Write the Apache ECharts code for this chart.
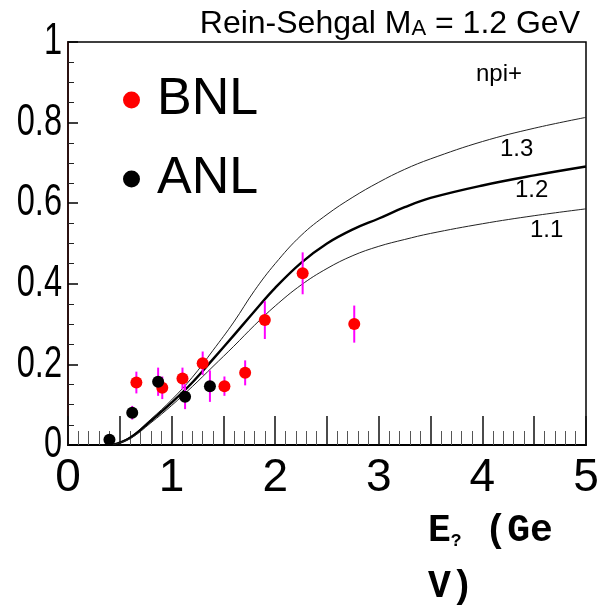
<!DOCTYPE html>
<html lang="en">
<head>
    <meta charset="UTF-8">
    <title>npi+ Rein-Sehgal</title>
    <script src="https://cdn.jsdelivr.net/npm/echarts@6/dist/echarts.min.js"></script>
    <style type="text/css">
        html, body { margin: 0; height: 100%; background: #ffffff; }
        #main { width: 605px; height: 606px; }
    </style>
</head>
<body>
    <div id="main"></div>
    <script type="text/javascript">
        // model curves (Rein-Sehgal, different MA)
        var energyGrid = [0.43, 0.6, 0.8, 1.0, 1.2, 1.4, 1.6, 1.8, 2.0, 2.25, 2.5, 2.75, 3.0, 3.25, 3.5, 4.0, 4.5, 5.0];
        var curveMA11 = [0, 0.016, 0.055, 0.098, 0.145, 0.195, 0.245, 0.297, 0.345, 0.397, 0.438, 0.47, 0.493, 0.51, 0.525, 0.549, 0.569, 0.586];
        var curveMA12 = [0, 0.018, 0.06, 0.105, 0.155, 0.213, 0.272, 0.332, 0.39, 0.452, 0.5, 0.535, 0.562, 0.59, 0.613, 0.644, 0.669, 0.691];
        var curveMA13 = [0, 0.02, 0.064, 0.112, 0.168, 0.235, 0.305, 0.383, 0.45, 0.52, 0.572, 0.615, 0.652, 0.684, 0.71, 0.753, 0.786, 0.813];

        // data points
        var bnlX = [0.66, 0.91, 1.105, 1.30, 1.51, 1.71, 1.90, 2.265, 2.763];
        var bnlY = [0.155, 0.142, 0.165, 0.203, 0.146, 0.179, 0.31, 0.426, 0.30];
        var bnlErr = [0.027, 0.028, 0.027, 0.029, 0.024, 0.031, 0.047, 0.052, 0.046];

        var anlX = [0.40, 0.62, 0.87, 1.13, 1.37];
        var anlY = [0.013, 0.08, 0.157, 0.12, 0.146];
        var anlErr = [0, 0.017, 0.035, 0.031, 0.039];

        // y tick labels (drawn narrow, like the original)
        var yTicks = [0, 0.2, 0.4, 0.6, 0.8, 1];
        var yTickLabels = ['0', '0.2', '0.4', '0.6', '0.8', '1'];

        function zip(xs, ys) {
            return xs.map(function (x, i) { return [x, ys[i]]; });
        }
        function errData(xs, ys, es) {
            return xs.map(function (x, i) { return [x, ys[i] - es[i], ys[i] + es[i]]; });
        }
        function errorBars(api) {
            var lo = api.coord([api.value(0), api.value(1)]);
            var hi = api.coord([api.value(0), api.value(2)]);
            return {
                type: 'line',
                shape: { x1: lo[0], y1: lo[1], x2: hi[0], y2: hi[1] },
                style: { stroke: '#ff00ff', lineWidth: 2 }
            };
        }

        var chart = echarts.init(document.getElementById('main'));
        var sans = '"Liberation Sans", Arial, sans-serif';
        var mono = '"Liberation Mono", "DejaVu Sans Mono", monospace';

        var texts = [
            { type: 'text', left: 476, top: 62, style: { text: 'npi+', font: '24px ' + sans, fill: '#000' } },
            { type: 'text', left: 500, top: 137, style: { text: '1.3', font: '24px ' + sans, fill: '#000' } },
            { type: 'text', left: 515, top: 178, style: { text: '1.2', font: '24px ' + sans, fill: '#000' } },
            { type: 'text', left: 530, top: 218, style: { text: '1.1', font: '24px ' + sans, fill: '#000' } },
            {
                type: 'text', left: 428, top: 512,
                style: {
                    text: '{m|E}{s|?}{m| (Ge}\n{m|V)}',
                    rich: {
                        m: { fontFamily: mono, fontWeight: 'bold', fontSize: 38, color: '#000', lineHeight: 56 },
                        s: { fontFamily: mono, fontWeight: 'bold', fontSize: 18, color: '#000', padding: [20, 0, 0, 0] }
                    }
                }
            }
        ];

        var option = {
            animation: false,
            backgroundColor: '#ffffff',
            title: {
                text: '{a|Rein-Sehgal M}{s|A}{a| = 1.2 GeV}',
                right: 20,
                top: 3,
                textStyle: {
                    fontWeight: 'normal',
                    rich: {
                        a: { fontFamily: sans, fontSize: 32, fontWeight: 'normal', color: '#000' },
                        s: { fontFamily: sans, fontSize: 22, fontWeight: 'normal', color: '#000', verticalAlign: 'bottom' }
                    }
                }
            },
            legend: {
                orient: 'vertical',
                left: 118,
                top: 69,
                itemWidth: 17,
                itemHeight: 17,
                itemGap: 27,
                icon: 'circle',
                data: ['BNL', 'ANL'],
                textStyle: { fontFamily: sans, fontSize: 52, color: '#000', padding: [0, 0, 0, 12] }
            },
            grid: {
                left: 68, right: 19, top: 42, bottom: 161,
                show: true, borderColor: '#000', borderWidth: 1.5
            },
            xAxis: {
                type: 'value',
                min: 0, max: 5, interval: 0.5,
                axisLine: { lineStyle: { color: '#000', width: 2 } },
                axisTick: { inside: true, length: 29, lineStyle: { color: '#111', width: 1.5 } },
                minorTick: { show: true, splitNumber: 5, length: 14, lineStyle: { color: '#555' } },
                splitLine: { show: false },
                axisLabel: {
                    fontFamily: sans, fontSize: 46, color: '#000', margin: 10,
                    formatter: function (v) { return v % 1 === 0 ? String(v) : ''; }
                }
            },
            yAxis: {
                type: 'value',
                min: 0, max: 1, interval: 0.2,
                axisLine: { lineStyle: { color: '#2b1111', width: 2 } },
                axisTick: { inside: true, length: 10, lineStyle: { color: '#000', width: 1.5 } },
                minorTick: { show: true, splitNumber: 4, length: 6, lineStyle: { color: '#222' } },
                splitLine: { show: false },
                axisLabel: { show: false }
            },
            graphic: texts,
            series: [
                { name: 'MA 1.3', type: 'line', data: zip(energyGrid, curveMA13), showSymbol: false, smooth: 0.4,
                  lineStyle: { color: '#222', width: 1 }, z: 2 },
                { name: 'MA 1.2', type: 'line', data: zip(energyGrid, curveMA12), showSymbol: false, smooth: 0.4,
                  lineStyle: { color: '#000', width: 2.4 }, z: 2 },
                { name: 'MA 1.1', type: 'line', data: zip(energyGrid, curveMA11), showSymbol: false, smooth: 0.4,
                  lineStyle: { color: '#222', width: 1 }, z: 2 },
                { name: 'BNL err', type: 'custom', data: errData(bnlX, bnlY, bnlErr), renderItem: function (p, api) { return errorBars(api); }, z: 3 },
                { name: 'ANL err', type: 'custom', data: errData(anlX, anlY, anlErr), renderItem: function (p, api) { return errorBars(api); }, z: 3 },
                { name: 'BNL', type: 'scatter', data: zip(bnlX, bnlY), symbolSize: 12, itemStyle: { color: '#ff0000', opacity: 1 }, z: 4 },
                { name: 'ANL', type: 'scatter', data: zip(anlX, anlY), symbolSize: 12, itemStyle: { color: '#000000', opacity: 1 }, z: 4 }
            ]
        };
        chart.setOption(option);

        // narrow y tick labels, placed with the axis scale
        var yLabelTexts = yTicks.map(function (v, i) {
            var py = chart.convertToPixel({ yAxisIndex: 0 }, v);
            return {
                type: 'text', x: 62, y: py, scaleX: 0.74,
                style: {
                    text: yTickLabels[i], font: '44px ' + sans, fill: '#000',
                    textAlign: 'right', textVerticalAlign: 'middle'
                }
            };
        });
        chart.setOption({ graphic: texts.concat(yLabelTexts) });
    </script>
</body>
</html>
